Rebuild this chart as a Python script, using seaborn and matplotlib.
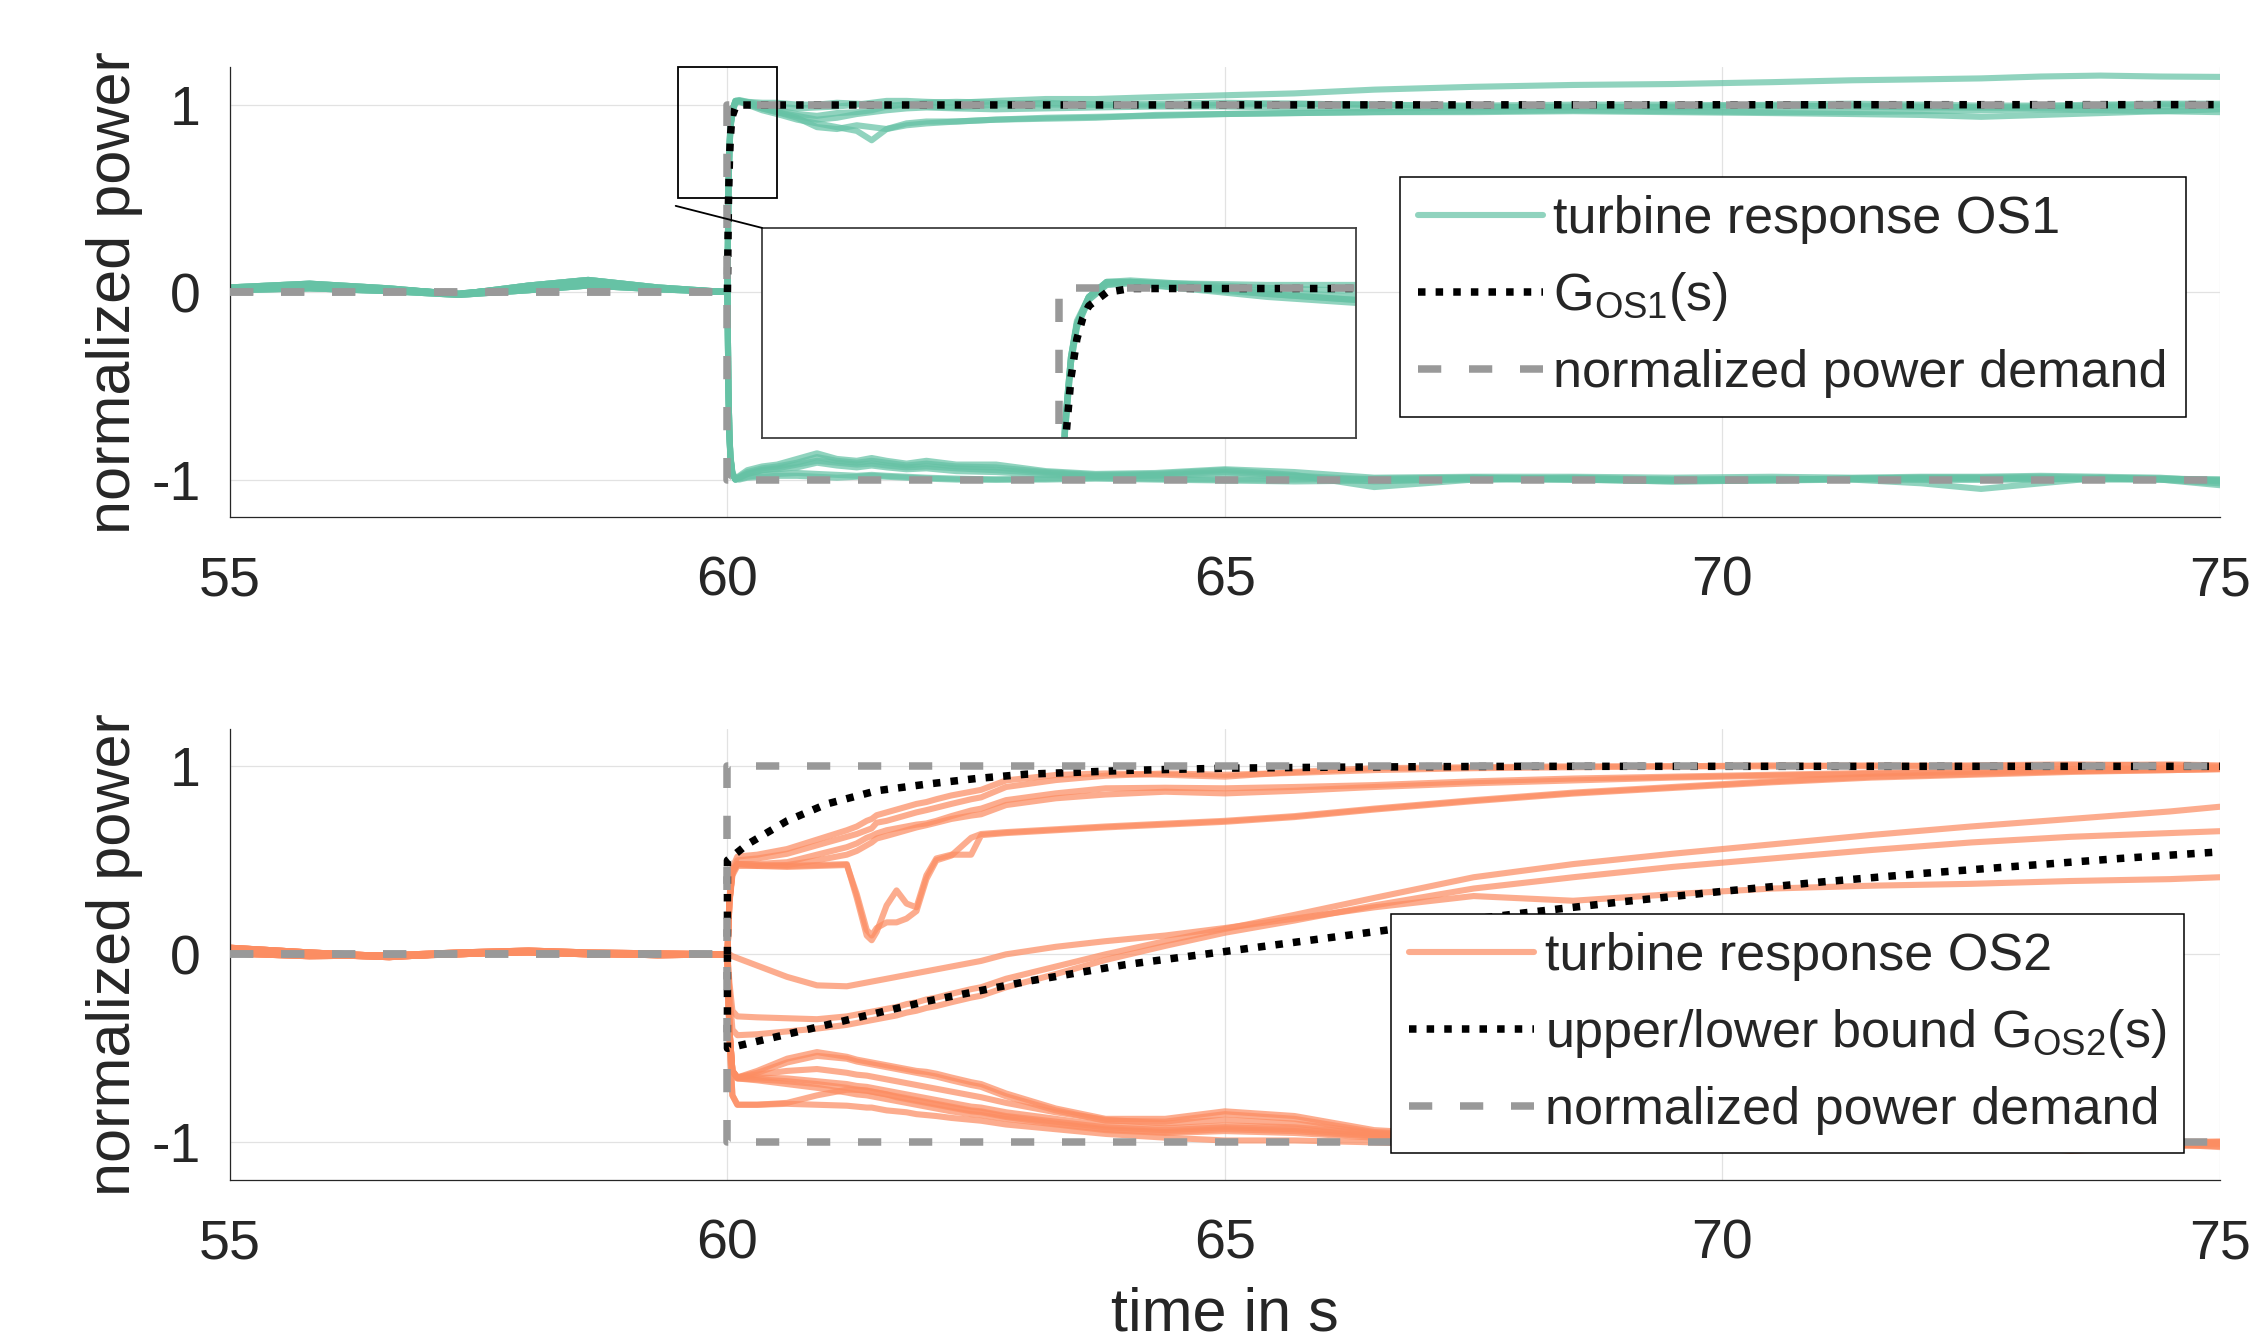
import numpy as np
import pandas as pd
import matplotlib
matplotlib.use("Agg")
import matplotlib.pyplot as plt
from matplotlib.lines import Line2D
from matplotlib.patches import Rectangle, ConnectionPatch
import seaborn as sns

# ---------------- data ----------------
t_pre = [55, 55.8, 56.6, 57.3, 58, 58.6, 59.3, 60]

# OS1 time grid after the step
t_os1 = [60.01, 60.02, 60.03, 60.05, 60.08, 60.12,
         60.2, 60.35, 60.5, 60.7, 60.9, 61.1,
         61.3, 61.45, 61.6, 61.8, 62.0, 62.3,
         62.7, 63.2, 63.7, 64.3, 65.0, 65.7,
         66.5, 67.5, 68.5, 69.5, 70.5, 71.3,
         72.0, 72.6, 73.2, 73.8, 74.4, 75.0]

pre_os1_a = [0.025, 0.045, 0.02, -0.012, 0.035, 0.065, 0.025, 0.0]
pre_os1_b = [0.02, 0.035, 0.015, -0.008, 0.025, 0.05, 0.02, 0.0]
pre_os1_c = [0.01, 0.02, 0.005, -0.015, 0.01, 0.035, 0.015, 0.0]

os1_up1 = [0.55, 0.77, 0.88, 0.97, 1.02, 1.025,
           1.015, 1.00, 0.99, 0.98, 0.985, 0.99,
           1.00, 1.01, 1.02, 1.02, 1.015, 1.01,
           1.02, 1.03, 1.03, 1.04, 1.05, 1.06,
           1.08, 1.095, 1.105, 1.11, 1.12, 1.13,
           1.135, 1.14, 1.15, 1.155, 1.15, 1.148]
os1_up2 = [0.52, 0.75, 0.87, 0.96, 1.01, 1.02,
           1.00, 0.97, 0.95, 0.92, 0.90, 0.88,
           0.86, 0.81, 0.87, 0.89, 0.90, 0.91,
           0.92, 0.925, 0.93, 0.945, 0.95, 0.955,
           0.96, 0.96, 0.965, 0.96, 0.955, 0.95,
           0.945, 0.935, 0.945, 0.955, 0.965, 0.975]
os1_up3 = [0.54, 0.77, 0.89, 0.97, 1.02, 1.02,
           1.01, 0.98, 0.96, 0.93, 0.88, 0.87,
           0.89, 0.88, 0.87, 0.90, 0.91, 0.91,
           0.92, 0.93, 0.935, 0.94, 0.95, 0.955,
           0.96, 0.965, 0.97, 0.965, 0.96, 0.96,
           0.965, 0.97, 0.975, 0.97, 0.965, 0.96]
os1_up4 = [0.53, 0.76, 0.88, 0.97, 1.015, 1.02,
           1.01, 0.99, 0.97, 0.95, 0.94, 0.955,
           0.96, 0.97, 0.99, 1.00, 0.99, 0.985,
           1.00, 1.01, 1.00, 0.995, 1.00, 1.005,
           1.00, 0.995, 1.00, 1.00, 0.995, 0.99,
           0.985, 0.985, 0.99, 0.995, 1.00, 1.00]
os1_up5 = [0.52, 0.75, 0.87, 0.96, 1.01, 1.015,
           1.00, 0.98, 0.96, 0.94, 0.92, 0.93,
           0.95, 0.96, 0.97, 0.98, 0.985, 0.98,
           0.975, 0.98, 0.985, 0.99, 0.99, 0.985,
           0.98, 0.985, 0.99, 0.985, 0.99, 0.995,
           0.99, 0.985, 0.98, 0.985, 0.99, 0.99]
os1_up6 = [0.55, 0.77, 0.88, 0.97, 1.02, 1.02,
           1.015, 1.01, 1.01, 1.00, 1.00, 1.01,
           1.005, 1.00, 0.995, 1.00, 1.01, 1.015,
           1.01, 1.00, 1.00, 1.005, 1.01, 1.005,
           1.00, 0.99, 0.985, 0.99, 1.00, 1.005,
           1.00, 0.995, 0.995, 1.00, 1.005, 1.005]

os1_dn1 = [-0.52, -0.76, -0.88, -0.97, -1.00, -0.98,
           -0.95, -0.93, -0.92, -0.89, -0.86, -0.89,
           -0.90, -0.885, -0.90, -0.915, -0.90, -0.92,
           -0.92, -0.955, -0.97, -0.965, -0.945, -0.96,
           -0.99, -0.985, -0.985, -0.99, -0.985, -0.99,
           -0.985, -0.985, -0.98, -0.985, -0.99, -1.01]
os1_dn2 = [-0.52, -0.76, -0.88, -0.97, -1.00, -0.985,
           -0.96, -0.94, -0.93, -0.91, -0.88, -0.90,
           -0.91, -0.90, -0.91, -0.925, -0.915, -0.93,
           -0.935, -0.96, -0.975, -0.97, -0.95, -0.975,
           -1.04, -1.00, -0.99, -1.00, -0.995, -1.00,
           -1.02, -1.05, -1.02, -0.99, -1.00, -1.03]
os1_dn3 = [-0.52, -0.76, -0.88, -0.97, -1.00, -0.99,
           -0.97, -0.95, -0.94, -0.92, -0.90, -0.91,
           -0.92, -0.915, -0.925, -0.935, -0.93, -0.94,
           -0.95, -0.965, -0.98, -0.975, -0.96, -0.98,
           -1.00, -0.99, -0.995, -1.00, -1.00, -0.995,
           -0.99, -0.99, -0.985, -0.99, -0.995, -1.00]
os1_dn4 = [-0.52, -0.76, -0.88, -0.97, -1.00, -1.00,
           -0.99, -0.985, -0.98, -0.98, -0.985, -0.99,
           -0.985, -0.98, -0.985, -0.99, -0.995, -1.00,
           -1.00, -0.995, -0.99, -0.995, -1.00, -1.00,
           -0.995, -0.99, -1.00, -1.005, -1.00, -0.995,
           -0.99, -0.99, -0.995, -1.00, -1.00, -1.005]
os1_dn5 = [-0.51, -0.75, -0.87, -0.96, -0.995, -0.995,
           -0.985, -0.975, -0.97, -0.965, -0.97, -0.975,
           -0.98, -0.975, -0.98, -0.985, -0.99, -0.995,
           -1.00, -1.00, -0.995, -1.00, -1.005, -1.01,
           -1.005, -1.00, -1.00, -1.01, -1.005, -1.00,
           -1.00, -1.00, -1.00, -0.995, -0.995, -1.00]
os1_dn6 = [-0.52, -0.76, -0.88, -0.97, -0.995, -0.99,
           -0.97, -0.95, -0.945, -0.935, -0.91, -0.925,
           -0.935, -0.925, -0.935, -0.945, -0.94, -0.955,
           -0.96, -0.975, -0.985, -0.98, -0.97, -0.985,
           -1.01, -0.995, -1.00, -1.01, -1.005, -0.995,
           -1.00, -1.00, -0.995, -0.995, -1.00, -1.02]

g1_t = [60, 60.01, 60.02, 60.03, 60.04, 60.05, 60.08, 60.12, 75]
g1 = [0, 0.47, 0.70, 0.83, 0.90, 0.94, 0.985, 0.998, 1.0]

# OS2 time grid after the step
t_os2 = [60.02, 60.05, 60.1, 60.3, 60.6, 60.9,
         61.2, 61.3, 61.4, 61.45, 61.5, 61.6,
         61.7, 61.8, 61.9, 62.0, 62.1, 62.25,
         62.45, 62.55, 62.8, 63.3, 63.8, 64.4,
         65.0, 65.7, 66.5, 67.5, 68.5, 69.5,
         70.5, 71.5, 72.5, 73.5, 74.5, 75.0]

pre_os2_a = [0.035, 0.01, -0.01, 0.0, 0.015, 0.005, -0.005, 0.0]
pre_os2_b = [0.02, 0.0, -0.015, 0.005, 0.01, 0.0, 0.0, 0.0]
pre_os2_c = [0.005, -0.01, -0.005, 0.01, 0.02, 0.01, 0.005, 0.0]

os2_f1 = [0.30, 0.46, 0.52, 0.53, 0.56, 0.61,
          0.66, 0.68, 0.71, 0.72, 0.74, 0.755,
          0.77, 0.785, 0.80, 0.81, 0.825, 0.845,
          0.865, 0.875, 0.925, 0.954, 0.962, 0.955,
          0.945, 0.97, 0.99, 0.995, 1.00, 1.00,
          1.005, 1.00, 1.005, 1.01, 1.005, 1.00]
os2_f2 = [0.28, 0.44, 0.50, 0.51, 0.535, 0.58,
          0.625, 0.64, 0.66, 0.67, 0.70, 0.71,
          0.725, 0.74, 0.755, 0.767, 0.78, 0.80,
          0.825, 0.835, 0.89, 0.927, 0.95, 0.962,
          0.955, 0.965, 0.98, 0.99, 0.995, 1.00,
          1.00, 1.005, 1.00, 1.005, 1.01, 1.005]
os2_f3 = [0.28, 0.43, 0.48, 0.48, 0.49, 0.53,
          0.57, 0.59, 0.62, 0.63, 0.643, 0.66,
          0.67, 0.68, 0.69, 0.696, 0.71, 0.735,
          0.765, 0.775, 0.82, 0.856, 0.883, 0.886,
          0.883, 0.89, 0.90, 0.92, 0.935, 0.945,
          0.955, 0.965, 0.975, 0.985, 0.99, 0.995]
os2_f4 = [0.27, 0.42, 0.47, 0.47, 0.475, 0.50,
          0.53, 0.55, 0.58, 0.595, 0.616, 0.63,
          0.645, 0.66, 0.675, 0.687, 0.70, 0.72,
          0.738, 0.745, 0.794, 0.83, 0.85, 0.865,
          0.856, 0.87, 0.89, 0.91, 0.925, 0.94,
          0.95, 0.96, 0.97, 0.975, 0.98, 0.985]
os2_dip1 = [0.28, 0.44, 0.48, 0.475, 0.47, 0.475,
            0.48, 0.30, 0.10, 0.075, 0.12, 0.26,
            0.34, 0.27, 0.25, 0.42, 0.51, 0.53,
            0.53, 0.634, 0.645, 0.66, 0.675, 0.69,
            0.705, 0.73, 0.77, 0.815, 0.855, 0.885,
            0.915, 0.94, 0.955, 0.97, 0.98, 0.985]
os2_dip2 = [0.28, 0.44, 0.48, 0.47, 0.465, 0.47,
            0.475, 0.32, 0.13, 0.10, 0.14, 0.17,
            0.17, 0.19, 0.23, 0.40, 0.50, 0.525,
            0.62, 0.64, 0.65, 0.665, 0.68, 0.695,
            0.71, 0.735, 0.775, 0.82, 0.86, 0.89,
            0.92, 0.945, 0.96, 0.975, 0.985, 0.99]
os2_m1 = [0.0, -0.01, -0.02, -0.06, -0.12, -0.165,
          -0.17, -0.16, -0.15, -0.145, -0.14, -0.13,
          -0.12, -0.11, -0.10, -0.09, -0.08, -0.065,
          -0.045, -0.035, 0.0, 0.04, 0.07, 0.10,
          0.14, 0.19, 0.25, 0.31, 0.285, 0.32,
          0.35, 0.365, 0.375, 0.39, 0.40, 0.41]
os2_m2 = [-0.15, -0.30, -0.33, -0.335, -0.34, -0.345,
          -0.33, -0.32, -0.31, -0.305, -0.30, -0.29,
          -0.28, -0.265, -0.255, -0.24, -0.23, -0.21,
          -0.185, -0.175, -0.13, -0.065, 0.0, 0.07,
          0.135, 0.21, 0.30, 0.41, 0.48, 0.535,
          0.585, 0.635, 0.68, 0.72, 0.76, 0.785]
os2_m3 = [-0.20, -0.40, -0.43, -0.425, -0.41, -0.395,
          -0.375, -0.365, -0.355, -0.35, -0.345, -0.335,
          -0.325, -0.31, -0.30, -0.285, -0.275, -0.255,
          -0.23, -0.22, -0.175, -0.105, -0.03, 0.045,
          0.115, 0.18, 0.26, 0.35, 0.41, 0.465,
          0.51, 0.555, 0.595, 0.625, 0.645, 0.655]
os2_l1 = [-0.40, -0.62, -0.655, -0.62, -0.555, -0.52,
          -0.545, -0.56, -0.57, -0.575, -0.58, -0.59,
          -0.60, -0.61, -0.62, -0.625, -0.635, -0.655,
          -0.68, -0.69, -0.74, -0.82, -0.875, -0.875,
          -0.835, -0.86, -0.935, -0.965, -0.985, -1.00,
          -1.01, -1.00, -1.00, -1.01, -1.005, -1.00]
os2_l2 = [-0.40, -0.62, -0.655, -0.63, -0.575, -0.54,
          -0.555, -0.57, -0.58, -0.585, -0.59, -0.60,
          -0.61, -0.62, -0.63, -0.64, -0.65, -0.67,
          -0.695, -0.705, -0.755, -0.83, -0.885, -0.89,
          -0.85, -0.875, -0.945, -0.97, -0.99, -1.005,
          -1.03, -1.02, -1.00, -1.04, -1.02, -1.00]
os2_l3 = [-0.40, -0.62, -0.655, -0.64, -0.62, -0.61,
          -0.63, -0.64, -0.645, -0.65, -0.655, -0.665,
          -0.675, -0.685, -0.695, -0.705, -0.715, -0.73,
          -0.75, -0.76, -0.79, -0.84, -0.88, -0.90,
          -0.88, -0.90, -0.95, -0.975, -0.99, -1.00,
          -1.005, -1.01, -1.00, -1.005, -1.00, -0.995]
os2_l4 = [-0.40, -0.62, -0.655, -0.655, -0.66, -0.675,
          -0.69, -0.70, -0.705, -0.71, -0.715, -0.725,
          -0.735, -0.745, -0.755, -0.765, -0.775, -0.79,
          -0.81, -0.815, -0.84, -0.875, -0.91, -0.925,
          -0.91, -0.92, -0.955, -0.98, -0.995, -1.01,
          -1.02, -1.00, -0.99, -1.00, -1.01, -1.005]
os2_l5 = [-0.40, -0.62, -0.66, -0.665, -0.675, -0.69,
          -0.71, -0.72, -0.725, -0.73, -0.735, -0.745,
          -0.755, -0.765, -0.775, -0.785, -0.795, -0.81,
          -0.83, -0.835, -0.86, -0.89, -0.92, -0.935,
          -0.92, -0.93, -0.965, -0.99, -1.04, -1.02,
          -1.00, -0.995, -1.00, -1.045, -1.02, -1.01]
os2_l6 = [-0.40, -0.62, -0.66, -0.67, -0.69, -0.71,
          -0.735, -0.745, -0.75, -0.755, -0.76, -0.77,
          -0.78, -0.79, -0.80, -0.81, -0.82, -0.835,
          -0.85, -0.855, -0.875, -0.905, -0.935, -0.95,
          -0.94, -0.95, -0.975, -1.00, -1.01, -1.00,
          -0.99, -1.00, -1.01, -1.00, -0.995, -1.00]
os2_l7 = [-0.45, -0.75, -0.80, -0.80, -0.79, -0.75,
          -0.72, -0.72, -0.725, -0.73, -0.735, -0.745,
          -0.76, -0.77, -0.78, -0.79, -0.80, -0.815,
          -0.835, -0.84, -0.865, -0.90, -0.93, -0.945,
          -0.93, -0.94, -0.97, -0.995, -1.03, -1.01,
          -1.00, -1.00, -1.005, -1.03, -1.015, -1.02]
os2_l8 = [-0.45, -0.75, -0.80, -0.80, -0.795, -0.80,
          -0.805, -0.81, -0.815, -0.815, -0.82, -0.83,
          -0.835, -0.84, -0.85, -0.855, -0.86, -0.87,
          -0.88, -0.885, -0.905, -0.93, -0.955, -0.975,
          -0.99, -0.99, -1.00, -1.02, -1.03, -1.02,
          -1.01, -1.02, -1.03, -1.02, -1.01, -1.025]

g2_up_t = [60, 60, 60.2, 60.6, 61, 61.5, 62, 62.5, 63, 64, 65, 66, 67, 68, 75]
g2_up = [0, 0.5, 0.585, 0.71, 0.80, 0.87, 0.905, 0.935, 0.958, 0.978, 0.99, 0.995, 0.998, 1.0, 1.0]
g2_lo_t = [60, 60, 61, 62, 63, 64, 65, 66, 67, 68, 69, 70, 71, 72, 73, 74, 75]
g2_lo = [0, -0.5, -0.375, -0.25, -0.145, -0.055, 0.015, 0.085, 0.155, 0.22,
         0.28, 0.335, 0.385, 0.43, 0.47, 0.51, 0.545]

demand_t = [55, 60, 60, 75]
demand_pos = [0, 0, 1, 1]
demand_neg = [0, 0, -1, -1]

# ---------------- style ----------------
sns.set_style("white")
plt.rcParams['font.family'] = ['Liberation Sans', 'DejaVu Sans']
plt.rcParams['mathtext.default'] = 'regular'
plt.rcParams['axes.unicode_minus'] = False

teal = "#66c2a5"
orange = "#fc8d62"
grey = "#999999"
axcol = "#262626"
dot_ls = (0, (1.0, 1.35))
dash_ls = (0, (3.1, 3.7))
lw_run = 4.4
lw_ref = 5.4


def runs_frame(pre_runs, post_runs, t_post):
    parts = []
    for i, post in enumerate(post_runs):
        pre = pre_runs[i % len(pre_runs)]
        parts.append(pd.DataFrame({"time": t_pre + t_post, "power": pre + post, "run": i}))
    return pd.concat(parts, ignore_index=True)


df1 = runs_frame([pre_os1_a, pre_os1_b, pre_os1_c],
                 [os1_up1, os1_up2, os1_up3, os1_up4, os1_up5, os1_up6,
                  os1_dn1, os1_dn2, os1_dn3, os1_dn4, os1_dn5, os1_dn6], t_os1)
df2 = runs_frame([pre_os2_a, pre_os2_b, pre_os2_c],
                 [os2_f1, os2_f2, os2_f3, os2_f4, os2_dip1, os2_dip2,
                  os2_m1, os2_m2, os2_m3,
                  os2_l1, os2_l2, os2_l3, os2_l4, os2_l5, os2_l6, os2_l7, os2_l8], t_os2)


def draw_runs(ax, df, col):
    sns.lineplot(data=df, x="time", y="power", units="run", estimator=None,
                 color=col, alpha=0.72, linewidth=lw_run, legend=False, ax=ax, zorder=2)


def draw_ref(ax, x, y, col, ls, z):
    sns.lineplot(x=x, y=y, estimator=None, sort=False, color=col, linewidth=lw_ref,
                 linestyle=ls, legend=False, ax=ax, zorder=z)


def style_axes(ax):
    ax.set_xlim(55, 75)
    ax.set_ylim(-1.2, 1.2)
    ax.set_xticks([55, 60, 65, 70, 75])
    ax.set_yticks([-1, 0, 1])
    ax.set_axisbelow(True)
    ax.grid(True, color="#e2e2e2", lw=0.9)
    ax.tick_params(direction="in", length=14, width=0.9, labelsize=40, colors=axcol)
    ax.tick_params(axis="x", pad=28)
    ax.tick_params(axis="y", pad=21)
    for s in ["top", "right"]:
        ax.spines[s].set_visible(False)
    for s in ["left", "bottom"]:
        ax.spines[s].set_color(axcol)
        ax.spines[s].set_linewidth(0.9)
    ax.set_xlabel("")
    ax.set_ylabel("normalized power", fontsize=44, color=axcol, labelpad=6)


fig = plt.figure(figsize=(22.5, 13.43), dpi=100)
ax1 = fig.add_axes([0.1022, 0.615, 0.8844, 0.335])
ax2 = fig.add_axes([0.1022, 0.1214, 0.8844, 0.336])

# top panel: OS1
draw_runs(ax1, df1, teal)
draw_ref(ax1, g1_t, g1, "black", dot_ls, 3)
draw_ref(ax1, demand_t, demand_pos, grey, dash_ls, 4)
draw_ref(ax1, demand_t, demand_neg, grey, dash_ls, 4)
style_axes(ax1)

# bottom panel: OS2
draw_runs(ax2, df2, orange)
draw_ref(ax2, g2_up_t, g2_up, "black", dot_ls, 3)
draw_ref(ax2, g2_lo_t, g2_lo, "black", dot_ls, 3)
draw_ref(ax2, demand_t, demand_pos, grey, dash_ls, 4)
draw_ref(ax2, demand_t, demand_neg, grey, dash_ls, 4)
style_axes(ax2)
ax2.set_xlabel("time in s", fontsize=44, color=axcol, labelpad=11)

# zoom box + inset
ax1.add_patch(Rectangle((59.5, 0.5), 1.0, 0.7, fill=False, ec="black", lw=1.3,
                        zorder=6, clip_on=False))
axins = fig.add_axes([0.3387, 0.6739, 0.264, 0.1564])
draw_runs(axins, df1, teal)
draw_ref(axins, g1_t, g1, "black", dot_ls, 3)
draw_ref(axins, demand_t, demand_pos, grey, dash_ls, 4)
axins.set_xlim(59.5, 60.5)
axins.set_ylim(0.5, 1.2)
axins.set_xticks([])
axins.set_yticks([])
axins.set_xlabel("")
axins.set_ylabel("")
axins.set_facecolor("white")
for s in axins.spines.values():
    s.set_visible(True)
    s.set_color("#404040")
    s.set_linewidth(1.3)
con = ConnectionPatch(xyA=(59.48, 0.46), coordsA=ax1.transData,
                      xyB=(0, 1), coordsB=axins.transAxes, color="black", lw=1.3)
fig.add_artist(con)

# legends
leg_kw = dict(loc="upper right", borderaxespad=0, fontsize=37.5, frameon=True,
              fancybox=False, edgecolor="black", framealpha=1,
              handlelength=2.4, handletextpad=0.2, borderpad=0.35, labelspacing=0.5)

h1 = [Line2D([], [], color=teal, alpha=0.72, lw=lw_run),
      Line2D([], [], color="black", lw=lw_ref, linestyle=dot_ls),
      Line2D([], [], color=grey, lw=lw_ref, linestyle=dash_ls)]
leg1 = ax1.legend(h1, ["turbine response OS1", r"G$_{OS1}$(s)", "normalized power demand"],
                  bbox_to_anchor=(0.983, 0.7556), **leg_kw)
leg1.get_frame().set_linewidth(1.1)
leg1.set_zorder(10)

h2 = [Line2D([], [], color=orange, alpha=0.72, lw=lw_run),
      Line2D([], [], color="black", lw=lw_ref, linestyle=dot_ls),
      Line2D([], [], color=grey, lw=lw_ref, linestyle=dash_ls)]
leg2 = ax2.legend(h2, ["turbine response OS2", r"upper/lower bound G$_{OS2}$(s)",
                       "normalized power demand"],
                  bbox_to_anchor=(0.982, 0.59), **leg_kw)
leg2.get_frame().set_linewidth(1.1)
leg2.set_zorder(10)

fig.savefig("out.png", dpi=100, facecolor="white")
